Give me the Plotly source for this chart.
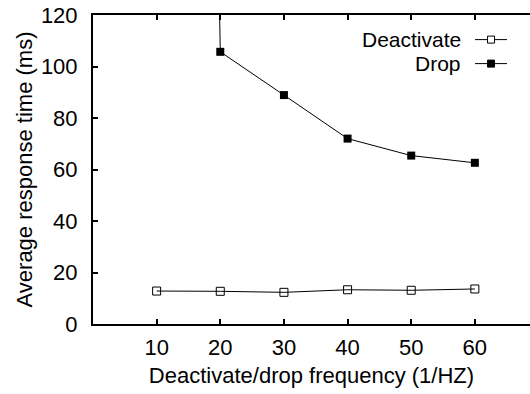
import plotly.graph_objects as go

freq = [10, 20, 30, 40, 50, 60]
deactivate = [12.8, 12.7, 12.3, 13.3, 13.1, 13.6]
drop = [1500, 105.7, 88.9, 72.0, 65.4, 62.6]
x_ticks = [10, 20, 30, 40, 50, 60]
y_ticks = [0, 20, 40, 60, 80, 100, 120]
series_names = ["Deactivate", "Drop"]

FONT = "Liberation Sans, Arial, sans-serif"
FS = 22
LFS = 21
W, H = 530, 394
L, T, B = 92.6, 15, 70

fig = go.Figure()
fig.add_trace(go.Scatter(
    x=freq, y=deactivate, mode="lines+markers", name=series_names[0],
    line=dict(color="black", width=1),
    marker=dict(symbol="square-open", size=8, color="black", line=dict(width=1)),
    showlegend=False, cliponaxis=True))
fig.add_trace(go.Scatter(
    x=freq, y=drop, mode="lines+markers", name=series_names[1],
    line=dict(color="black", width=1),
    marker=dict(symbol="square", size=8, color="black"),
    showlegend=False, cliponaxis=True))

# manual legend (text left, sample right, gnuplot style)
leg_y = [39.6, 63.6]
syms = ["square-open", "square"]
for name, yy, sym in zip(series_names, leg_y, syms):
    yp = 1 - (yy - T) / (H - T - B)
    fig.add_annotation(xref="paper", yref="paper", x=(462 - L) / (W - L), y=yp,
                       text=name, showarrow=False, xanchor="right", yanchor="middle",
                       borderpad=0,
                       font=dict(family=FONT, size=LFS, color="black"))
    x0 = (475 - L) / (W - L)
    x1 = (507 - L) / (W - L)
    fig.add_shape(type="line", xref="paper", yref="paper", x0=x0, x1=x1, y0=yp, y1=yp,
                  line=dict(color="black", width=1))
    cx = (491 - L) / (W - L)
    hw = 3.5 / (W - L)
    hh = 3.5 / (H - T - B)
    fig.add_shape(type="rect", xref="paper", yref="paper", x0=cx - hw, x1=cx + hw,
                  y0=yp - hh, y1=yp + hh, line=dict(color="black", width=1),
                  fillcolor="black" if sym == "square" else "white")

fig.update_layout(
    width=W, height=H,
    margin=dict(l=L, r=0, t=T, b=B, pad=0),
    paper_bgcolor="white", plot_bgcolor="white",
    font=dict(family=FONT, size=FS, color="black"),
    xaxis=dict(range=[0, (W - L) / 6.37], tickvals=x_ticks, ticks="inside", ticklen=5,
               tickwidth=1.5, tickcolor="black", showline=True, linecolor="black", linewidth=2,
               mirror="ticks", showgrid=False, zeroline=False, ticklabelstandoff=3,
               title=dict(text="Deactivate/drop frequency (1/HZ)", standoff=8,
                          font=dict(family=FONT, size=FS))),
    yaxis=dict(range=[0, 120], tickvals=y_ticks, ticks="inside", ticklen=5,
               tickwidth=1.5, tickcolor="black", showline=True, linecolor="black", linewidth=2,
               showgrid=False, zeroline=False, ticklabelstandoff=9,
               title=dict(text="Average response time (ms)", standoff=2,
                          font=dict(family=FONT, size=FS))),
)

fig.write_html("out.html")
